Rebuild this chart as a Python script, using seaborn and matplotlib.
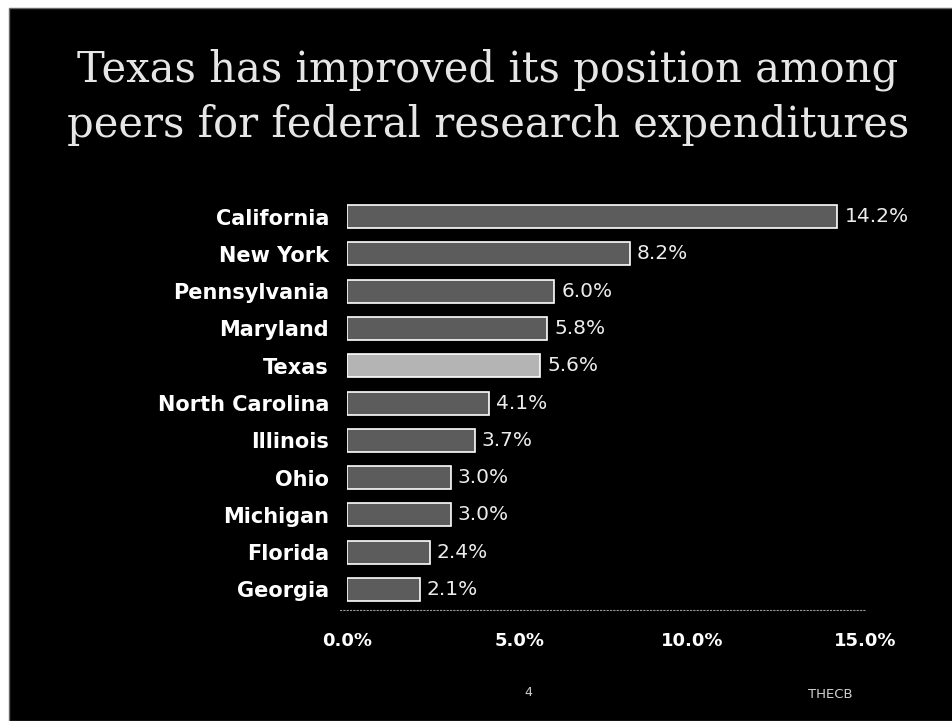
import matplotlib
matplotlib.use("Agg")
import matplotlib.pyplot as plt
import seaborn as sns
import pandas as pd
from matplotlib.patches import Rectangle
from matplotlib.ticker import FuncFormatter

states = ["California", "New York", "Pennsylvania", "Maryland", "Texas",
          "North Carolina", "Illinois", "Ohio", "Michigan", "Florida", "Georgia"]
share = [14.2, 8.2, 6.0, 5.8, 5.6, 4.1, 3.7, 3.0, 3.0, 2.4, 2.1]
x_ticks = [0, 5, 10, 15]

highlight = "Texas"
df = pd.DataFrame({"state": states, "share": share})
df["group"] = ["focus" if s == highlight else "peer" for s in states]

sns.set_theme(style="dark")
plt.rcParams["font.family"] = ["DejaVu Sans"]

W, H = 953, 721
fig = plt.figure(figsize=(W / 100, H / 100), dpi=100)
fig.patch.set_facecolor("white")
# slide background
fig.add_artist(Rectangle((9 / W, 0), 1, 1 - 8 / H, transform=fig.transFigure,
                         facecolor="black", edgecolor="#6a6a6a", linewidth=1.0,
                         zorder=0))

ax = fig.add_axes([347 / W, 1 - 610 / H, 518 / W, 412 / H])
ax.set_facecolor("none")

sns.barplot(data=df, y="state", x="share", hue="group",
            palette={"peer": "#5c5c5c", "focus": "#b4b4b4"},
            dodge=False, width=0.62, edgecolor="white", linewidth=1.2,
            legend=False, ax=ax, orient="h")

for cont in ax.containers:
    ax.bar_label(cont, labels=[f"{v:.1f}%" for v in cont.datavalues],
                 padding=5, color="#ececec", fontsize=14.5)

ax.set_xlim(0, 15)
ax.set_ylim(10.55, -0.5)
ax.set_xticks(x_ticks)
ax.xaxis.set_major_formatter(FuncFormatter(lambda v, p: f"{v:.1f}%"))
ax.set_xlabel("")
ax.set_ylabel("")
ax.tick_params(axis="y", length=0, pad=13, labelsize=15, labelcolor="white")
ax.tick_params(axis="x", length=0, pad=16, labelsize=13, labelcolor="white")
for lab in ax.get_yticklabels() + ax.get_xticklabels():
    lab.set_fontweight("bold")
ax.grid(False)
for side in ["top", "right", "left"]:
    ax.spines[side].set_visible(False)
ax.spines["bottom"].set_color("#9a9a9a")
ax.spines["bottom"].set_linestyle((0, (1, 2)))
ax.spines["bottom"].set_linewidth(0.8)
ax.spines["bottom"].set_bounds(-0.2, 15)

fig.text(488 / W, 1 - 97 / H,
         "Texas has improved its position among\npeers for federal research expenditures",
         ha="center", va="center", color="#e6e6e6", fontsize=30,
         family="DejaVu Serif", linespacing=1.4)

fig.text(528 / W, 1 - 693 / H, "4", ha="center", va="center", color="#d0d0d0", fontsize=9)
fig.text(830 / W, 1 - 695 / H, "THECB", ha="center", va="center", color="#d0d0d0", fontsize=9.5)

fig.savefig("out.png", dpi=100, facecolor=fig.get_facecolor())
